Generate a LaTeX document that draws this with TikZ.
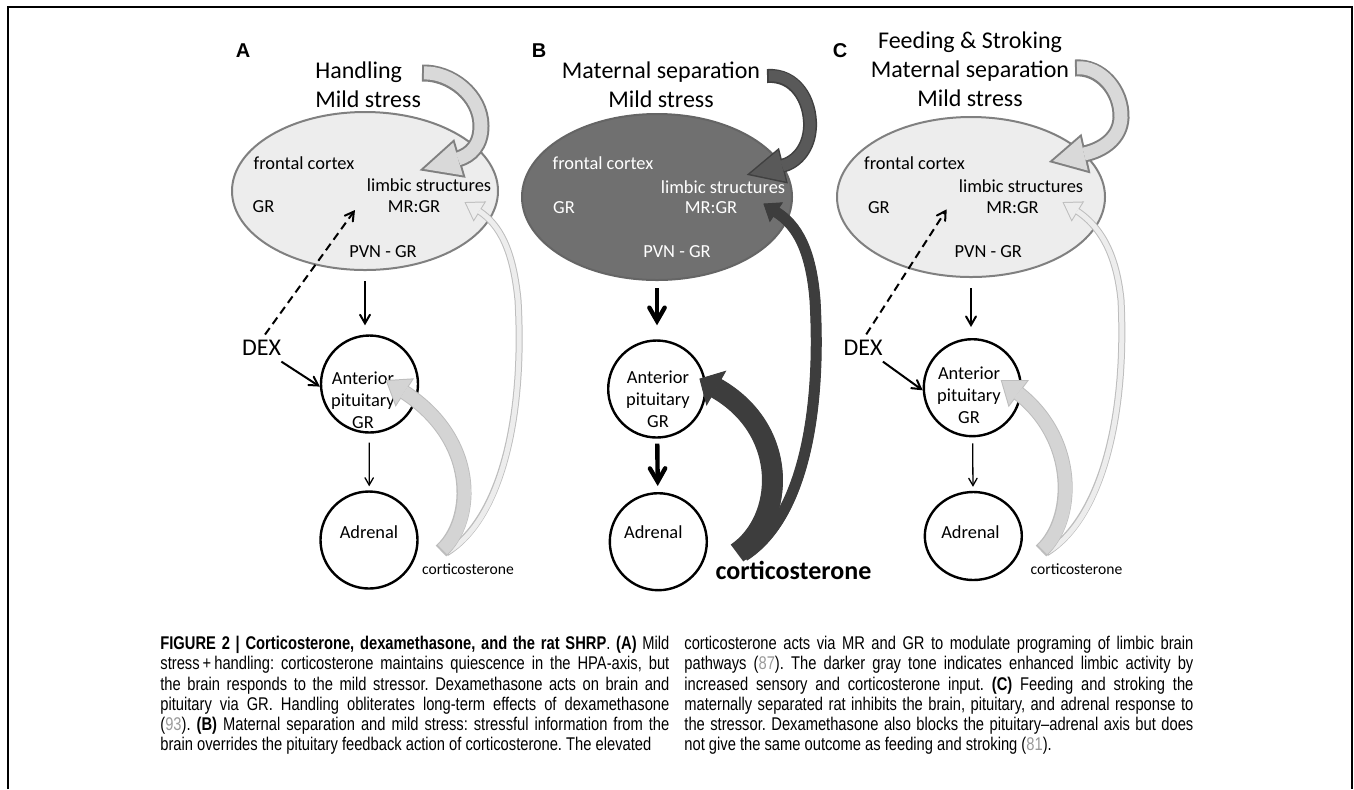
\documentclass[tikz,border=0pt]{standalone}
\usepackage{fontspec}
\setmainfont{Carlito}
\newfontfamily\labfont{Liberation Sans}
\newfontfamily\capfont[FakeStretch=0.8]{Liberation Sans}
\usetikzlibrary{arrows,calc,positioning,shapes.geometric}

\definecolor{brainpale}{gray}{0.93}
\definecolor{braindeep}{gray}{0.44}
\definecolor{rimgray}{gray}{0.5}
\definecolor{bandpale}{gray}{0.85}
\definecolor{banddeep}{gray}{0.35}
\definecolor{bandrim}{gray}{0.25}
\definecolor{loopfill}{gray}{0.83}
\definecolor{looprim}{gray}{0.74}
\definecolor{loopthin}{gray}{0.93}
\definecolor{loopdeep}{gray}{0.24}
\definecolor{refnum}{gray}{0.6}

\tikzset{every scope/.style={>=angle 60},
  brain/.style={ellipse,inner sep=0pt,line width=1pt},
  organ/.style={circle,draw,line width=1.2pt,inner sep=0pt,minimum size=48.5pt},
  area/.style={font=\fontsize{9.2}{11}\selectfont,inner sep=0pt},
  title/.style={font=\fontsize{12}{14.5}\selectfont,inner sep=0pt,anchor=north},
  panel/.style={font=\labfont\bfseries\fontsize{10}{12}\selectfont,inner sep=0pt,anchor=base},
  drug/.style={font=\fontsize{12}{14}\selectfont,inner sep=0pt},
  cort/.style={font=\fontsize{7.8}{9}\selectfont,inner sep=0pt},
  cortbig/.style={font=\bfseries\fontsize{13}{15}\selectfont,inner sep=0pt},
  legend/.style={font=\capfont\fontsize{9.2}{10.1}\selectfont\frenchspacing,text width=254.5pt,align=justify,inner sep=0pt,anchor=north west},
  hpa/.style={->,line width=1pt},
  hpathick/.style={->,line width=2.2pt}
}

% band arrow: fill, rim, band width, rim width, path, neck, tip, half head
\newcommand{\bandarrow}[8]{%
  \draw[#2,line width=#3+#4] #5;
  \filldraw[#2,line width=#4,line join=miter] (#7) -- ($(#6)!#8!90:(#7)$) -- ($(#6)!#8!-90:(#7)$) -- cycle;
  \draw[#1,line width=#3,shorten <=1pt] #5;
  \fill[#1] (#7) -- ($(#6)!#8!90:(#7)$) -- ($(#6)!#8!-90:(#7)$) -- cycle;
}

\begin{document}
\begin{tikzpicture}[x=0.5pt,y=-0.5pt,>=angle 60]
\useasboundingbox (0,0) rectangle (1354,789);
\draw[line width=0.8pt] (8,789) -- (8,7) -- (1352,7) -- (1352,789);

% panel A
\node[panel] (labA) at (243,57) {A};
\node[title,anchor=north west,align=left] (inA) at (315,61) {Handling\\Mild stress};
\node[brain,draw=rimgray,fill=brainpale,minimum width=133pt,minimum height=79pt] (brainA) at (365,191) {};
\node[area] (fcA) at (304,163) {frontal cortex};
\node[area] (lsA) at (429,185) {limbic structures};
\node[area] (grA) at (263.5,207) {GR};
\node[area] (mrA) at (414,207) {MR:GR};
\node[area] (pvnA) at (383,252) {PVN - GR};
\node[organ] (pitA) at (369.5,384) {};
\node[area,align=center] (pitAtext) at (363,400) {Anterior\\pituitary\\GR};
\node[organ] (adrA) at (369,540) {};
\node[area] (adrAtext) at (369,532) {Adrenal};
\node[drug] (dexA) at (261.5,347.5) {DEX};
\node[cort] (cortA) at (468,569) {corticosterone};
\coordinate (aimA) at (355,210);
\draw[hpa,shorten <=5pt,shorten >=4.5pt] (brainA.south) -- (brainA.south |- pitA.north);
\draw[->,line width=0.65pt,shorten <=4.5pt,shorten >=2pt] (pitA) -- (adrA);
\draw[hpa] ([yshift=-3pt]dexA.south east) -- (pitA.183);
\draw[hpa,dashed,dash pattern=on 4pt off 2.5pt,shorten <=3pt] (dexA.north) -- (aimA);
\coordinate (tailA) at (422,73);
\coordinate (neckA) at (458,159);
\coordinate (tipA) at (424,169);
\bandarrow{bandpale}{rimgray}{6.5pt}{2pt}{(tailA) .. controls (450,72) and (481,95) .. (481,126) .. controls (481,145) and (471,155) .. (neckA)}{neckA}{tipA}{8.5pt}
\coordinate (baseA1) at (441,551);
\coordinate (neckA1) at (404,392);
\coordinate (headA1) at (387,381);
\coordinate (baseA2) at (446,553);
\coordinate (neckA2) at (479,211);
\coordinate (headA2) at (466,203);
\bandarrow{loopthin}{looprim}{2.5pt}{1pt}{(baseA2) .. controls (500,520) and (525,420) .. (518,300) .. controls (513,250) and (500,225) .. (neckA2)}{neckA2}{headA2}{5pt}
\bandarrow{loopfill}{looprim}{6.5pt}{1pt}{(baseA1) .. controls (475,520) and (478,440) .. (neckA1)}{neckA1}{headA1}{7.5pt}

% panel B
\node[panel] (labB) at (539,57) {B};
\node[title,align=center] (inB) at (661,61) {Maternal separation\\Mild stress};
\node[brain,draw=braindeep!90!black,fill=braindeep,minimum width=135pt,minimum height=83pt] (brainB) at (657,197) {};
\node[area,text=white] (fcB) at (603,163) {frontal cortex};
\node[area,text=white] (lsB) at (723,187) {limbic structures};
\node[area,text=white] (grB) at (564,208) {GR};
\node[area,text=white] (mrB) at (711,208) {MR:GR};
\node[area,text=white] (pvnB) at (677,252) {PVN - GR};
\node[organ] (pitB) at (656.7,389) {};
\node[area,align=center] (pitBtext) at (658,399) {Anterior\\pituitary\\GR};
\node[organ] (adrB) at (658.3,541.7) {};
\node[area] (adrBtext) at (653.3,532) {Adrenal};
\node[cortbig] (cortB) at (793.5,570) {corticosterone};
\draw[hpathick,shorten <=3.5pt,shorten >=7pt] (brainB.south) -- (brainB.south |- pitB.north);
\draw[hpathick,shorten <=2.5pt,shorten >=3pt] (pitB) -- (adrB);
\coordinate (tailB) at (767,76);
\coordinate (neckB) at (782,166);
\coordinate (tipB) at (750,174);
\bandarrow{banddeep}{bandrim}{5.5pt}{1.5pt}{(tailB) .. controls (795,74) and (811,100) .. (810,127) .. controls (809,148) and (797,162) .. (neckB)}{neckB}{tipB}{8pt}
\coordinate (baseB1) at (737,553);
\coordinate (neckB1) at (716,388);
\coordinate (headB1) at (700,379);
\coordinate (baseB2) at (744,556);
\coordinate (neckB2) at (776,212);
\coordinate (headB2) at (764,204);
\bandarrow{loopdeep}{loopdeep}{5pt}{0.5pt}{(baseB2) .. controls (800,520) and (822,420) .. (815,300) .. controls (811,250) and (797,225) .. (neckB2)}{neckB2}{headB2}{5.5pt}
\bandarrow{loopdeep}{loopdeep}{10pt}{0.5pt}{(baseB1) .. controls (785,520) and (790,430) .. (neckB1)}{neckB1}{headB1}{9.5pt}

% panel C
\node[panel] (labC) at (840,57) {C};
\node[title,align=center] (inC) at (970,31) {Feeding \& Stroking\\Maternal separation\\Mild stress};
\node[brain,draw=rimgray,fill=brainpale,minimum width=134pt,minimum height=80pt] (brainC) at (971,197) {};
\node[area] (fcC) at (914.5,163) {frontal cortex};
\node[area] (lsC) at (1021,186) {limbic structures};
\node[area] (grC) at (878.8,208) {GR};
\node[area] (mrC) at (1012.5,208) {MR:GR};
\node[area] (pvnC) at (988.3,252) {PVN - GR};
\node[organ] (pitC) at (972.3,387.7) {};
\node[area,align=center] (pitCtext) at (969,395) {Anterior\\pituitary\\GR};
\node[organ,ellipse,minimum height=44pt] (adrC) at (973.3,536) {};
\node[area] (adrCtext) at (970.5,532) {Adrenal};
\node[drug] (dexC) at (863,347.5) {DEX};
\node[cort] (cortC) at (1076.5,569) {corticosterone};
\coordinate (aimC) at (946.7,209.3);
\draw[hpa,shorten <=5pt,shorten >=5.5pt] (brainC.south) -- (brainC.south |- pitC.north);
\draw[->,line width=0.65pt,shorten <=3pt,shorten >=2pt] (pitC) -- (adrC);
\draw[hpa] ([yshift=-3pt]dexC.south east) -- (pitC.183);
\draw[hpa,dashed,dash pattern=on 4pt off 2.5pt,shorten <=3pt] (dexC.north) -- (aimC);
\coordinate (tailC) at (1075,68);
\coordinate (neckC) at (1084,154);
\coordinate (tipC) at (1053,161);
\bandarrow{bandpale}{rimgray}{6.5pt}{2pt}{(tailC) .. controls (1100,66) and (1122,90) .. (1121,118) .. controls (1120,138) and (1103,150) .. (neckC)}{neckC}{tipC}{8.5pt}
\coordinate (baseC1) at (1041,551);
\coordinate (neckC1) at (1018,393);
\coordinate (headC1) at (1002,381);
\coordinate (baseC2) at (1046,553);
\coordinate (neckC2) at (1077,211);
\coordinate (headC2) at (1064,203);
\bandarrow{loopthin}{looprim}{2.5pt}{1pt}{(baseC2) .. controls (1100,520) and (1127,420) .. (1121,300) .. controls (1116,250) and (1098,225) .. (neckC2)}{neckC2}{headC2}{5pt}
\bandarrow{loopfill}{looprim}{6.5pt}{1pt}{(baseC1) .. controls (1075,520) and (1078,440) .. (neckC1)}{neckC1}{headC1}{7.5pt}

% caption
\node[legend] (capL) at (160,636) {\textbf{FIGURE 2 | Corticosterone, dexamethasone, and the rat SHRP}. \textbf{(A)} Mild\linebreak
stress\,+\,handling: corticosterone maintains quiescence in the HPA-axis, but\linebreak
the brain responds to the mild stressor. Dexamethasone acts on brain and\linebreak
pituitary via GR. Handling obliterates long-term effects of dexamethasone\linebreak
(\textcolor{refnum}{93}). \textbf{(B)} Maternal separation and mild stress: stressful information from the\linebreak
brain overrides the pituitary feedback action of corticosterone. The elevated};
\node[legend] (capR) at (684,636) {corticosterone acts via MR and GR to modulate programing of limbic brain\linebreak
pathways (\textcolor{refnum}{87}). The darker gray tone indicates enhanced limbic activity by\linebreak
increased sensory and corticosterone input. \textbf{(C)} Feeding and stroking the\linebreak
maternally separated rat inhibits the brain, pituitary, and adrenal response to\linebreak
the stressor. Dexamethasone also blocks the pituitary\textendash adrenal axis but does\linebreak
not give the same outcome as feeding and stroking (\textcolor{refnum}{81}).};
\end{tikzpicture}
\end{document}
